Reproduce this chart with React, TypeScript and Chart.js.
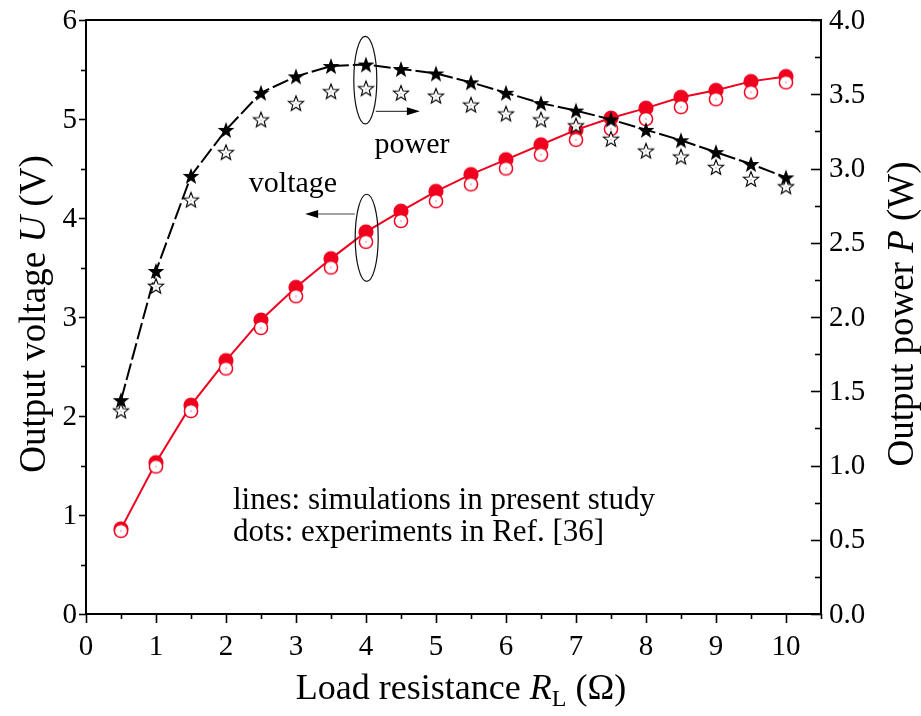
import React, { useEffect, useRef } from "react";
import { Chart, registerables } from "chart.js";

Chart.register(...registerables);

// ---------- data ----------
const loadResistance = [0.5, 1, 1.5, 2, 2.5, 3, 3.5, 4, 4.5, 5, 5.5, 6, 6.5, 7, 7.5, 8, 8.5, 9, 9.5, 10];
const voltageSim = [0.86, 1.53, 2.11, 2.56, 2.97, 3.30, 3.59, 3.86, 4.07, 4.27, 4.44, 4.59, 4.74, 4.89, 5.01, 5.11, 5.22, 5.29, 5.38, 5.43];
const voltageExp = [0.84, 1.49, 2.05, 2.48, 2.89, 3.21, 3.50, 3.76, 3.97, 4.17, 4.34, 4.50, 4.64, 4.79, 4.90, 5.00, 5.12, 5.20, 5.27, 5.37];
const powerSim = [1.44, 2.31, 2.95, 3.26, 3.51, 3.62, 3.69, 3.70, 3.67, 3.64, 3.58, 3.51, 3.44, 3.39, 3.33, 3.26, 3.19, 3.11, 3.03, 2.94];
const powerExp = [1.37, 2.21, 2.79, 3.11, 3.33, 3.44, 3.52, 3.54, 3.51, 3.49, 3.43, 3.37, 3.33, 3.29, 3.20, 3.12, 3.08, 3.01, 2.93, 2.88];

const xTickLabels = ["0", "1", "2", "3", "4", "5", "6", "7", "8", "9", "10"];
const leftTickLabels = ["0", "1", "2", "3", "4", "5", "6"];
const rightTickLabels = ["0.0", "0.5", "1.0", "1.5", "2.0", "2.5", "3.0", "3.5", "4.0"];

const noteLines = ["lines: simulations in present study", "dots: experiments in Ref. [36]"];

const RED = "rgb(240,0,30)";
const FONT = '"Liberation Serif", "Times New Roman", serif';

// ---------- marker images ----------
function starPath(ctx: CanvasRenderingContext2D, cx: number, cy: number, ro: number, ri: number) {
  ctx.beginPath();
  for (let i = 0; i < 10; i++) {
    const r = i % 2 === 0 ? ro : ri;
    const a = -Math.PI / 2 + (i * Math.PI) / 5;
    const px = cx + r * Math.cos(a);
    const py = cy + r * Math.sin(a);
    if (i === 0) ctx.moveTo(px, py);
    else ctx.lineTo(px, py);
  }
  ctx.closePath();
}

function makeCanvas(size: number, draw: (c: CanvasRenderingContext2D, s: number) => void) {
  const cv = document.createElement("canvas");
  cv.width = size;
  cv.height = size;
  const c = cv.getContext("2d")!;
  draw(c, size);
  return cv;
}

function makeMarkers() {
  const filledStar = makeCanvas(20, (c, s) => {
    starPath(c, s / 2, s / 2 + 0.8, 8.8, 3.6);
    c.fillStyle = "#000";
    c.fill();
  });
  const openStar = makeCanvas(20, (c, s) => {
    starPath(c, s / 2, s / 2 + 0.8, 8.0, 3.4);
    c.fillStyle = "#fff";
    c.fill();
    c.lineWidth = 1.1;
    c.strokeStyle = "#000";
    c.stroke();
    c.fillStyle = "#777";
    c.fillRect(s / 2 - 0.5, s / 2 + 0.3, 1, 1);
  });
  const filledCircle = makeCanvas(18, (c, s) => {
    c.beginPath();
    c.arc(s / 2, s / 2, 7.6, 0, Math.PI * 2);
    c.fillStyle = RED;
    c.fill();
  });
  const openCircle = makeCanvas(18, (c, s) => {
    c.beginPath();
    c.arc(s / 2, s / 2, 6.6, 0, Math.PI * 2);
    c.fillStyle = "#fff";
    c.fill();
    c.lineWidth = 1.5;
    c.strokeStyle = RED;
    c.stroke();
    c.fillStyle = RED;
    c.fillRect(s / 2 - 0.5, s / 2 - 0.5, 1, 1);
  });
  return { filledStar, openStar, filledCircle, openCircle };
}

// ---------- text helpers ----------
type Part = { t: string; italic?: boolean; sub?: boolean };

function drawRich(ctx: CanvasRenderingContext2D, parts: Part[], size: number, cx: number, cy: number, rot: number) {
  ctx.save();
  ctx.translate(cx, cy);
  ctx.rotate(rot);
  ctx.textBaseline = "middle";
  ctx.textAlign = "left";
  const fontOf = (p: Part) => `${p.italic ? "italic " : ""}${p.sub ? Math.round(size * 0.68) : size}px ${FONT}`;
  let total = 0;
  const widths = parts.map((p) => {
    ctx.font = fontOf(p);
    const w = ctx.measureText(p.t).width;
    total += w;
    return w;
  });
  let x = -total / 2;
  parts.forEach((p, i) => {
    ctx.font = fontOf(p);
    ctx.fillStyle = "#000";
    ctx.fillText(p.t, x, p.sub ? size * 0.28 : 0);
    x += widths[i];
  });
  ctx.restore();
}

function arrow(ctx: CanvasRenderingContext2D, x0: number, y0: number, x1: number, y1: number) {
  ctx.save();
  ctx.strokeStyle = "#444";
  ctx.lineWidth = 1.1;
  const dir = Math.sign(x1 - x0);
  const headLen = 13;
  ctx.beginPath();
  ctx.moveTo(x0, y0);
  ctx.lineTo(x1 - dir * headLen * 0.6, y1);
  ctx.stroke();
  ctx.fillStyle = "#000";
  ctx.beginPath();
  ctx.moveTo(x1, y1);
  ctx.lineTo(x1 - dir * headLen, y1 - 4);
  ctx.lineTo(x1 - dir * headLen, y1 + 4);
  ctx.closePath();
  ctx.fill();
  ctx.restore();
}

const decorPlugin = {
  id: "decor",
  afterDraw(chart: any) {
    const { ctx, chartArea } = chart;
    const sx = chart.scales.x;
    const sy = chart.scales.y;
    const sy1 = chart.scales.y1;
    const { left, right, top, bottom } = chartArea;
    ctx.save();

    // frame
    ctx.strokeStyle = "#000";
    ctx.lineWidth = 2;
    ctx.strokeRect(left, top, right - left, bottom - top);

    // bottom ticks
    ctx.lineWidth = 1.6;
    for (let v = 0; v <= 10.5 + 1e-9; v += 0.5) {
      const px = Math.round(sx.getPixelForValue(v)) + 0.5;
      const len = Math.abs(v - Math.round(v)) < 1e-6 ? 9 : 5;
      ctx.beginPath();
      ctx.moveTo(px, bottom);
      ctx.lineTo(px, bottom + len);
      ctx.stroke();
    }
    // left ticks
    for (let v = 0; v <= 6 + 1e-9; v += 0.5) {
      const py = Math.round(sy.getPixelForValue(v)) + 0.5;
      const len = Math.abs(v - Math.round(v)) < 1e-6 ? 7 : 5;
      ctx.beginPath();
      ctx.moveTo(left - len, py);
      ctx.lineTo(left, py);
      ctx.stroke();
    }
    // right ticks (inward)
    for (let v = 0; v <= 4 + 1e-9; v += 0.25) {
      const py = Math.round(sy1.getPixelForValue(v)) + 0.5;
      const major = Math.abs(v * 2 - Math.round(v * 2)) < 1e-6;
      const len = major ? 10 : 6;
      ctx.beginPath();
      ctx.moveTo(right - len, py);
      ctx.lineTo(right, py);
      ctx.stroke();
    }

    // tick labels
    ctx.fillStyle = "#000";
    ctx.font = `29px ${FONT}`;
    ctx.textBaseline = "middle";
    ctx.textAlign = "center";
    xTickLabels.forEach((lab) => {
      ctx.fillText(lab, sx.getPixelForValue(parseFloat(lab)), bottom + 33);
    });
    ctx.textAlign = "right";
    leftTickLabels.forEach((lab) => {
      ctx.fillText(lab, left - 9, sy.getPixelForValue(parseFloat(lab)) + 1);
    });
    ctx.textAlign = "left";
    rightTickLabels.forEach((lab) => {
      ctx.fillText(lab, right + 8, sy1.getPixelForValue(parseFloat(lab)) + 1);
    });

    // axis titles
    drawRich(ctx, [{ t: "Load resistance " }, { t: "R", italic: true }, { t: "L", sub: true }, { t: " (Ω)" }], 36, 461, 690, 0);
    drawRich(ctx, [{ t: "Output voltage " }, { t: "U", italic: true }, { t: " (V)" }], 37, 35, 314, -Math.PI / 2);
    drawRich(ctx, [{ t: "Output power " }, { t: "P", italic: true }, { t: " (W)" }], 37, 903, 314, -Math.PI / 2);

    // ellipses
    ctx.strokeStyle = "#111";
    ctx.lineWidth = 1.2;
    const ex1 = sx.getPixelForValue(3.99);
    const eyTop1 = sy1.getPixelForValue(3.89);
    const eyBot1 = sy1.getPixelForValue(3.30);
    ctx.beginPath();
    ctx.ellipse(ex1, (eyTop1 + eyBot1) / 2, 11.5, (eyBot1 - eyTop1) / 2, 0, 0, Math.PI * 2);
    ctx.stroke();
    const ex2 = sx.getPixelForValue(4.01);
    const eyTop2 = sy.getPixelForValue(4.24);
    const eyBot2 = sy.getPixelForValue(3.36);
    ctx.beginPath();
    ctx.ellipse(ex2, (eyTop2 + eyBot2) / 2, 11.5, (eyBot2 - eyTop2) / 2, 0, 0, Math.PI * 2);
    ctx.stroke();

    // arrows
    const ay1 = sy1.getPixelForValue(3.385);
    arrow(ctx, sx.getPixelForValue(4.14), ay1, sx.getPixelForValue(4.77), ay1);
    const ay2 = sy.getPixelForValue(4.04);
    arrow(ctx, sx.getPixelForValue(3.84), ay2, sx.getPixelForValue(3.13), ay2);

    // labels
    ctx.fillStyle = "#000";
    ctx.font = `30px ${FONT}`;
    ctx.textAlign = "center";
    ctx.textBaseline = "middle";
    ctx.fillText("power", 412, 145);
    ctx.fillText("voltage", 293, 184);

    ctx.font = `31px ${FONT}`;
    ctx.textAlign = "left";
    noteLines.forEach((line, i) => {
      ctx.fillText(line, 233, 501 + i * 32);
    });

    ctx.restore();
  },
};

export default function App() {
  const ref = useRef<HTMLCanvasElement | null>(null);

  useEffect(() => {
    document.body.style.margin = "0";
    const canvas = ref.current!;
    const m = makeMarkers();
    const chart = new Chart(canvas, {
      type: "line",
      data: {
        labels: loadResistance,
        datasets: [
          {
            label: "power exp",
            data: loadResistance.map((r, i) => ({ x: r, y: powerExp[i] })),
            yAxisID: "y1",
            showLine: false,
            pointStyle: m.openStar as any,
            order: 0,
          },
          {
            label: "power sim",
            data: loadResistance.map((r, i) => ({ x: r, y: powerSim[i] })),
            yAxisID: "y1",
            borderColor: "#000",
            borderWidth: 2,
            borderDash: [17, 4],
            pointStyle: m.filledStar as any,
            tension: 0,
            order: 1,
          },
          {
            label: "voltage exp",
            data: loadResistance.map((r, i) => ({ x: r, y: voltageExp[i] })),
            yAxisID: "y",
            showLine: false,
            pointStyle: m.openCircle as any,
            order: 2,
          },
          {
            label: "voltage sim",
            data: loadResistance.map((r, i) => ({ x: r, y: voltageSim[i] })),
            yAxisID: "y",
            borderColor: RED,
            borderWidth: 2,
            pointStyle: m.filledCircle as any,
            tension: 0,
            order: 3,
          },
        ],
      },
      options: {
        responsive: false,
        animation: false,
        events: [],
        layout: { padding: { left: 86, right: 100, top: 20, bottom: 102 } },
        plugins: { legend: { display: false }, tooltip: { enabled: false } },
        scales: {
          x: { type: "linear", min: 0, max: 10.5, display: false },
          y: { type: "linear", min: 0, max: 6, display: false },
          y1: { type: "linear", min: 0, max: 4, display: false, position: "right" },
        },
      },
      plugins: [decorPlugin],
    });
    return () => chart.destroy();
  }, []);

  return (
    <div style={{ position: "absolute", left: 0, top: 0, width: 921, height: 716, background: "#fff" }}>
      <canvas ref={ref} width={921} height={716} style={{ display: "block", width: 921, height: 716 }} />
    </div>
  );
}
